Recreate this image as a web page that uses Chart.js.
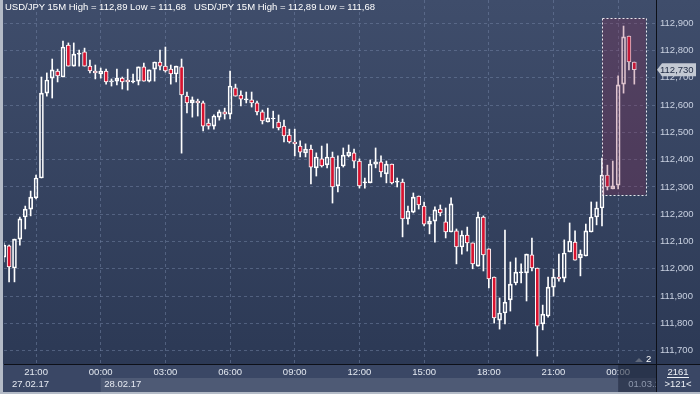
<!DOCTYPE html>
<html><head><meta charset="utf-8">
<script src="https://cdn.jsdelivr.net/npm/chart.js@4.4.1/dist/chart.umd.min.js"></script>
<style>
html,body{margin:0;padding:0;background:#344260;}
#wrap{position:relative;width:700px;height:394px;overflow:hidden;}
canvas{display:block;}
.t{position:absolute;top:1px;font:9.5px "Liberation Sans",Arial,sans-serif;color:#ffffff;white-space:nowrap;}
</style></head><body>
<div id="wrap"><canvas id="c" width="700" height="394"></canvas>
<div class="t" style="left:5px">USD/JPY 15M High = 112,89 Low = 111,68</div>
<div class="t" style="left:194px">USD/JPY 15M High = 112,89 Low = 111,68</div>
</div>
<script>
// ---- data (USD/JPY, 15-minute candles, 27.02.17 19:30 -> 01.03.17 00:45) ----
const open = [112.043,112.084,112.003,112.109,112.190,112.219,112.260,112.333,112.644,112.699,
112.725,112.703,112.820,112.743,112.787,112.795,112.743,112.725,112.714,112.725,
112.685,112.688,112.699,112.692,112.685,112.688,112.740,112.688,112.732,112.758,
112.743,112.732,112.714,112.740,112.633,112.608,112.615,112.608,112.534,112.523,
112.556,112.575,112.567,112.663,112.637,112.619,112.619,112.608,112.575,112.538,
112.549,112.538,112.523,112.490,112.465,112.450,112.425,112.439,112.370,112.403,
112.381,112.410,112.304,112.377,112.414,112.425,112.395,112.315,112.315,112.384,
112.392,112.348,112.384,112.318,112.318,112.183,112.208,112.267,112.230,112.164,
112.175,112.219,112.172,112.135,112.139,112.080,112.124,112.095,112.010,112.190,
112.073,111.970,111.812,111.838,111.886,111.948,111.985,111.985,112.051,112.003,
111.798,111.827,111.933,111.970,111.966,112.062,112.098,112.040,112.047,112.135,
112.190,112.223,112.344,112.293,112.307,112.677,112.853,112.758];
const high = [112.095,112.087,112.109,112.190,112.230,112.285,112.344,112.703,112.718,112.769,
112.732,112.835,112.828,112.828,112.802,112.809,112.765,112.747,112.736,112.732,
112.696,112.732,112.703,112.732,112.714,112.740,112.754,112.729,112.758,112.802,
112.813,112.747,112.743,112.769,112.648,112.630,112.622,112.615,112.549,112.564,
112.582,112.589,112.725,112.677,112.652,112.648,112.648,112.615,112.582,112.589,
112.578,112.564,112.545,112.512,112.512,112.469,112.458,112.454,112.425,112.450,
112.458,112.428,112.414,112.443,112.454,112.439,112.403,112.333,112.399,112.443,
112.414,112.395,112.384,112.333,112.329,112.230,112.278,112.267,112.245,112.190,
112.227,112.234,112.223,112.260,112.146,112.139,112.153,112.095,112.208,112.194,
112.073,111.970,111.893,112.142,112.025,112.040,112.018,112.054,112.113,112.003,
111.867,111.970,111.999,112.054,112.106,112.168,112.139,112.069,112.164,112.245,
112.245,112.406,112.380,112.395,112.707,112.890,112.853,112.758];
const low = [112.025,111.952,111.952,112.087,112.146,112.194,112.256,112.333,112.633,112.626,
112.685,112.703,112.743,112.743,112.743,112.743,112.718,112.696,112.699,112.677,
112.670,112.674,112.659,112.655,112.681,112.674,112.688,112.685,112.688,112.729,
112.721,112.677,112.685,112.424,112.571,112.556,112.560,112.505,112.512,112.512,
112.545,112.549,112.549,112.633,112.597,112.608,112.593,112.564,112.531,112.538,
112.516,112.509,112.465,112.461,112.414,112.410,112.410,112.311,112.340,112.373,
112.370,112.241,112.282,112.373,112.410,112.370,112.296,112.296,112.315,112.370,
112.337,112.315,112.311,112.300,112.117,112.164,112.205,112.219,112.157,112.128,
112.098,112.194,112.113,112.135,112.018,112.054,112.065,112.000,112.010,111.992,
111.930,111.801,111.779,111.798,111.845,111.941,111.948,111.882,111.992,111.680,
111.776,111.823,111.900,111.955,111.952,112.062,112.032,111.974,112.047,112.135,
112.161,112.157,112.289,112.293,112.293,112.644,112.729,112.677];
const close = [112.087,112.007,112.109,112.183,112.219,112.263,112.333,112.644,112.692,112.729,
112.707,112.813,112.743,112.787,112.787,112.743,112.725,112.718,112.725,112.685,
112.688,112.699,112.685,112.685,112.685,112.740,112.688,112.729,112.758,112.743,
112.725,112.714,112.743,112.637,112.608,112.619,112.608,112.523,112.523,112.560,
112.575,112.567,112.670,112.633,112.622,112.619,112.608,112.575,112.542,112.553,
112.549,112.516,112.487,112.465,112.458,112.428,112.439,112.373,112.410,112.377,
112.410,112.300,112.373,112.417,112.428,112.395,112.304,112.315,112.384,112.392,
112.355,112.384,112.315,112.318,112.183,112.212,112.263,112.234,112.164,112.175,
112.216,112.205,112.135,112.238,112.080,112.124,112.095,112.018,112.190,112.051,
111.963,111.820,111.838,111.878,111.944,111.988,111.985,112.054,112.003,111.790,
111.834,111.933,111.970,111.963,112.058,112.102,112.032,112.054,112.139,112.190,
112.223,112.344,112.300,112.304,112.674,112.850,112.758,112.730];

// time axis: tick positions (candle index) and labels
const timeTickIndex = [6, 18, 30, 42, 54, 66, 78, 90, 102, 114];
const timeTickLabels = ['21:00','00:00','03:00','06:00','09:00','12:00','15:00','18:00','21:00','00:00'];
const dateLabels = ['27.02.17', '28.02.17', '01.03.17'];
const dateStartIndex = [0, 18, 114];
// price axis ticks
const priceTicks = [111.7,111.8,111.9,112.0,112.1,112.2,112.3,112.4,112.5,112.6,112.7,112.8,112.9];
// highlighted zone (index range, price range)
const zoneIndex = [111.0, 119.1];
const zonePrice = [112.271, 112.919];
const infoTop = '2161';
const infoBottom = '>121<';
const markerCount = '2';

// ---- styles ----
const FONT = '"Liberation Sans", Arial, sans-serif';
const RED = '#d8122f';
const GRID = 'rgba(112,128,160,0.55)';
const X_MIN = 0.056, X_MAX = 121.02;
const Y_MIN = 111.651, Y_MAX = 112.9854;

Chart.defaults.font.family = FONT;

const idx = open.map((_, i) => i);
const bodies = idx.map(i => ({x: i, y: [open[i], close[i]]}));
const upperWicks = idx.map(i => ({x: i, y: [Math.max(open[i], close[i]), high[i]]}));
const lowerWicks = idx.map(i => ({x: i, y: [low[i], Math.min(open[i], close[i])]}));
const bodyColors = idx.map(i => close[i] < open[i] ? RED : 'rgba(0,0,0,0)');

const bgPlugin = {
  id: 'bg',
  beforeDraw(chart) {
    const ctx = chart.ctx, ca = chart.chartArea, W = chart.width, H = chart.height;
    const xs = chart.scales.x;
    ctx.save();
    ctx.fillStyle = '#3a4765';
    ctx.fillRect(0, 0, W, H);
    const g = ctx.createLinearGradient(0, 0, 0, ca.bottom);
    g.addColorStop(0, '#3f4d6b');
    g.addColorStop(1, '#2c3955');
    ctx.fillStyle = g;
    ctx.fillRect(0, 0, W, ca.bottom);
    // date strip
    const s1 = xs.getPixelForValue(dateStartIndex[1]);
    ctx.fillStyle = '#4e5a75';
    ctx.fillRect(s1, ca.bottom + 14, ca.right - s1, 14);
    // frame
    ctx.fillStyle = '#b4bbc7';
    ctx.fillRect(0, 0, 3, H);
    ctx.fillRect(0, H - 2, W, 2);
    ctx.restore();
  }
};

const overlayPlugin = {
  id: 'overlay',
  afterDraw(chart) {
    const ctx = chart.ctx, ca = chart.chartArea, W = chart.width, H = chart.height;
    const xs = chart.scales.x, ys = chart.scales.y;
    ctx.save();
    // highlighted zone
    const zx0 = xs.getPixelForValue(zoneIndex[0]), zx1 = xs.getPixelForValue(zoneIndex[1]);
    const zy0 = ys.getPixelForValue(zonePrice[1]), zy1 = ys.getPixelForValue(zonePrice[0]);
    ctx.fillStyle = 'rgba(140,40,80,0.28)';
    ctx.fillRect(zx0, zy0, zx1 - zx0, zy1 - zy0);
    ctx.strokeStyle = '#e8e8ee';
    ctx.lineWidth = 1;
    ctx.setLineDash([2, 2]);
    ctx.strokeRect(Math.round(zx0) + 0.5, Math.round(zy0) + 0.5, Math.round(zx1 - zx0), Math.round(zy1 - zy0));
    ctx.setLineDash([]);

    // axis separators
    ctx.fillStyle = '#0d1018';
    ctx.fillRect(Math.round(ca.right), 0, 1, H - 2);
    ctx.fillRect(ca.left, Math.round(ca.bottom), W - ca.left, 1);

    // date labels
    ctx.font = '9.5px ' + FONT;
    ctx.textBaseline = 'middle';
    ctx.textAlign = 'left';
    const dy = ca.bottom + 20.5;
    ctx.fillStyle = '#e6eaf2';
    ctx.fillText(dateLabels[0], ca.left + 8, dy);
    ctx.fillText(dateLabels[1], xs.getPixelForValue(dateStartIndex[1]) + 3.5, dy);
    // dark box for the current day
    const s2 = xs.getPixelForValue(dateStartIndex[2]);
    ctx.fillStyle = 'rgba(28,36,56,0.55)';
    ctx.fillRect(s2, ca.bottom + 1, ca.right - s2, 27);
    ctx.save();
    ctx.beginPath();
    ctx.rect(s2, ca.bottom + 1, ca.right - s2, 27);
    ctx.clip();
    ctx.fillStyle = '#8e98ad';
    ctx.fillText(dateLabels[2], s2 + 10, dy);
    ctx.restore();

    // bottom-right info
    ctx.fillStyle = '#3a4765';
    ctx.fillRect(ca.right + 1, ca.bottom + 1, W - ca.right - 1, H - ca.bottom - 3);
    ctx.fillStyle = '#eef1f6';
    ctx.textAlign = 'center';
    const cx = (ca.right + W) / 2;
    ctx.fillText(infoTop, cx, ca.bottom + 8.5);
    ctx.fillRect(cx - 11, ca.bottom + 13, 22, 1);
    ctx.fillText(infoBottom, cx, ca.bottom + 20.5);

    // marker "2" with triangle
    ctx.fillStyle = '#5f687a';
    ctx.beginPath();
    ctx.moveTo(ca.right - 21, ca.bottom - 2);
    ctx.lineTo(ca.right - 13, ca.bottom - 2);
    ctx.lineTo(ca.right - 17, ca.bottom - 6);
    ctx.closePath();
    ctx.fill();
    ctx.fillStyle = '#ffffff';
    ctx.textAlign = 'left';
    ctx.fillText(markerCount, ca.right - 10, ca.bottom - 4.5);

    // last price label
    const last = close[close.length - 1];
    const py = ys.getPixelForValue(last);
    const lx = ca.right + 1;
    ctx.fillStyle = '#c3c9d3';
    ctx.beginPath();
    ctx.moveTo(lx, py);
    ctx.lineTo(lx + 5, py - 6.5);
    ctx.lineTo(W - 4, py - 6.5);
    ctx.lineTo(W - 4, py + 6.5);
    ctx.lineTo(lx + 5, py + 6.5);
    ctx.closePath();
    ctx.fill();
    ctx.fillStyle = '#1c2740';
    ctx.textAlign = 'left';
    ctx.fillText(last.toFixed(3).replace('.', ','), lx + 3, py + 0.5);
    ctx.restore();
  }
};

new Chart(document.getElementById('c'), {
  type: 'bar',
  data: {
    datasets: [
      {data: bodies, backgroundColor: bodyColors, borderColor: '#ffffff', borderWidth: 1,
       borderSkipped: false, barThickness: 4, minBarLength: 1, grouped: false, clip: 0},
      {data: upperWicks, backgroundColor: '#ffffff', borderWidth: 0, barThickness: 1, grouped: false, clip: 0},
      {data: lowerWicks, backgroundColor: '#ffffff', borderWidth: 0, barThickness: 1, grouped: false, clip: 0}
    ]
  },
  options: {
    responsive: false, animation: false, devicePixelRatio: 1,
    layout: {padding: {left: 4, top: 0, right: 0, bottom: 0}},
    plugins: {legend: {display: false}, tooltip: {enabled: false}, title: {display: false}},
    scales: {
      x: {
        type: 'linear', min: X_MIN, max: X_MAX, offset: false,
        grid: {offset: false, color: GRID, drawTicks: false, lineWidth: 1},
        border: {display: false, dash: [3, 3]},
        ticks: {color: '#e3e8f0', font: {size: 9.5, family: FONT}, padding: 3, maxRotation: 0, autoSkip: false,
                callback: (v, i) => timeTickLabels[i]},
        afterBuildTicks: s => { s.ticks = timeTickIndex.map(v => ({value: v})); },
        afterFit: s => { s.height = 30; s.paddingLeft = 0; s.paddingRight = 0; }
      },
      y: {
        position: 'right', min: Y_MIN, max: Y_MAX, beginAtZero: false,
        grid: {color: GRID, drawTicks: false, lineWidth: 1},
        border: {display: false, dash: [3, 3]},
        ticks: {color: '#c9d1e1', font: {size: 9.5, family: FONT}, padding: 4,
                callback: v => v.toFixed(3).replace('.', ',')},
        afterBuildTicks: s => { s.ticks = priceTicks.map(v => ({value: v})); },
        afterFit: s => { s.width = 44; s.paddingTop = 0; s.paddingBottom = 0; }
      }
    }
  },
  plugins: [bgPlugin, overlayPlugin]
});
</script>
</body></html>
